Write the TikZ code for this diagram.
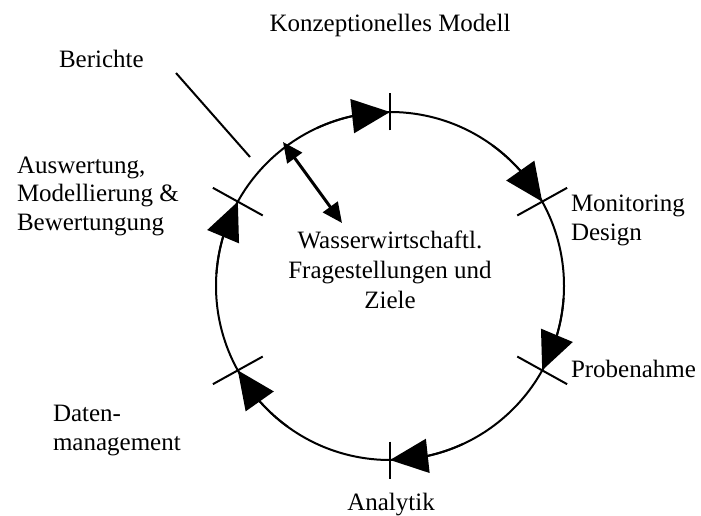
\documentclass[tikz,border=0pt]{standalone}
\usepackage{fontspec}
\setmainfont{Liberation Serif}
\usetikzlibrary{arrows.meta,bending,calc}

\begin{document}
\begin{tikzpicture}[x=1pt, y=1pt, line width=2pt,
    lbl/.style={font=\fontsize{25}{28.5}\selectfont, inner sep=0pt, align=left},
    cyc/.style={-{Triangle[length=38pt, width=34pt, flex]}}]
\useasboundingbox (0,0) rectangle (701,515);
\coordinate (c) at (390,229);

% Circle
\draw (c) circle[radius=174];

% Ticks between the phases
\foreach \a/\h in {90/18.5, 29/28.5, -29/28.5, -90/18.5, -151/28.5, 151/28.5} {
    \draw ($(c)+(\a:174-\h)$) -- ($(c)+(\a:174+\h)$);
}

% Arrow heads, clockwise, ending on the ticks
\foreach \a in {90, 29, -29, -90, -151, 151} {
    \draw[cyc] (c) ++(\a+25:174) arc[start angle=\a+25, end angle=\a, radius=174];
}

% Labels (base = last line)
\node[lbl, anchor=base] (title) at (390,483) {Konzeptionelles Modell};
\node[lbl, anchor=base west] (ber) at (58,447) {Berichte};
\node[lbl, anchor=base west] (ausw) at (16,285) {Auswertung,\\Modellierung \&\\Bewertungung};
\node[lbl, anchor=base west] (mon) at (570,275) {Monitoring\\Design};
\node[lbl, anchor=base west] (probe) at (570,138) {Probenahme};
\node[lbl, anchor=base west] (daten) at (52,65) {Daten-\\management};
\node[lbl, anchor=base] (ana) at (391,5) {Analytik};
\node[lbl, align=center, font=\fontsize{25}{30}\selectfont, anchor=base] (ziele) at (390,207)
    {Wasserwirtschaftl.\\Fragestellungen und\\Ziele};

% Berichte pointer
\coordinate (b1) at (176,442);
\coordinate (b2) at (250,358);
\draw (b1) -- (b2);

% Link between reports and questions
\coordinate (rep) at (283,373);
\coordinate (goal) at (342,292);
\draw[line width=3pt, {Triangle[length=20pt, width=18pt]}-{Triangle[length=20pt, width=18pt]}] (rep) -- (goal);

\end{tikzpicture}
\end{document}
